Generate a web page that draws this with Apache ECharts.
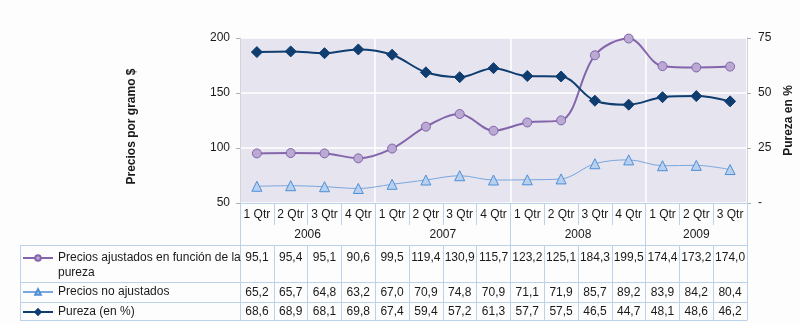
<!DOCTYPE html>
<html>
<head>
<meta charset="utf-8">
<script src="https://cdn.jsdelivr.net/npm/echarts@6/dist/echarts.min.js"></script>
<style>
  html, body { margin: 0; padding: 0; background: #fdfdfd; }
  #chart { width: 800px; height: 323px; }
</style>
</head>
<body>
<div id="chart"></div>
<script>
// Quarterly categories and the year each quarter belongs to
const quarters = ['1 Qtr', '2 Qtr', '3 Qtr', '4 Qtr', '1 Qtr', '2 Qtr', '3 Qtr', '4 Qtr',
                  '1 Qtr', '2 Qtr', '3 Qtr', '4 Qtr', '1 Qtr', '2 Qtr', '3 Qtr'];
const quarterYears = ['2006', '2006', '2006', '2006', '2007', '2007', '2007', '2007',
                      '2008', '2008', '2008', '2008', '2009', '2009', '2009'];

// Series values
const adjustedPrices = [95.1, 95.4, 95.1, 90.6, 99.5, 119.4, 130.9, 115.7, 123.2, 125.1, 184.3, 199.5, 174.4, 173.2, 174.0];
const unadjustedPrices = [65.2, 65.7, 64.8, 63.2, 67.0, 70.9, 74.8, 70.9, 71.1, 71.9, 85.7, 89.2, 83.9, 84.2, 80.4];
const purity = [68.6, 68.9, 68.1, 69.8, 67.4, 59.4, 57.2, 61.3, 57.7, 57.5, 46.5, 44.7, 48.1, 48.6, 46.2];

// Axis scales
const priceTicks = [50, 100, 150, 200];
const purityTicks = [0, 25, 50, 75];

const seriesNames = ['Precios ajustados en función de la pureza', 'Precios no ajustados', 'Pureza (en %)'];
// a leading blank line keeps the key beside the first line of the wrapped label
const legendLabels = [' \nPrecios ajustados en función de la\npureza', 'Precios no ajustados', 'Pureza (en %)'];

// Layout
const FONT = "'Liberation Sans', Arial, sans-serif";
const TEXT = '#1a1a1a';
const BORDER = '#bcd1ea';
const PLOT = { left: 240, top: 38, width: 507, height: 165 };
const plotBottom = PLOT.top + PLOT.height;
const tableLeft = 20;
const rowTops = [245, 282, 302];   // value rows
const tableBottom = 320;
const yearRowTop = 225;
const rowTextCenters = [257, 291, 311];

// Year groups: start index and length of each year in the quarter list
const yearGroups = [];
quarterYears.forEach((y, i) => {
  const last = yearGroups[yearGroups.length - 1];
  if (last && last.year === y) last.count++;
  else yearGroups.push({ year: y, start: i, count: 1 });
});
const yearBounds = yearGroups.map(g => g.start).concat([quarters.length]);
const yearCenters = yearGroups.map(g => g.start + g.count / 2);

const fmt = v => v.toFixed(1).replace('.', ',');

function valueRowAxis(values, top, height, margin) {
  return {
    type: 'category', data: quarters, position: 'bottom',
    offset: top - plotBottom,
    axisLine: { show: true, lineStyle: { color: BORDER, width: 1 } },
    axisTick: { show: true, interval: 0, length: height, lineStyle: { color: BORDER } },
    axisLabel: {
      show: true, interval: 0, margin: margin, fontSize: 12, color: TEXT, fontFamily: FONT,
      formatter: (v, i) => fmt(values[i])
    },
    splitLine: { show: false }
  };
}

const chart = echarts.init(document.getElementById('chart'), null, { renderer: 'canvas' });

const borderLines = [];
rowTops.concat([tableBottom]).forEach(y => {
  borderLines.push({ type: 'line', shape: { x1: tableLeft, y1: y + 0.5, x2: PLOT.left, y2: y + 0.5 },
    style: { stroke: BORDER, lineWidth: 1 }, silent: true });
});
borderLines.push({ type: 'line', shape: { x1: tableLeft + 0.5, y1: rowTops[0], x2: tableLeft + 0.5, y2: tableBottom },
  style: { stroke: BORDER, lineWidth: 1 }, silent: true });

const LEGEND_LINE = 15;
const legendTops = rowTextCenters.map((c, i) =>
  c - 6.5 - (i === 0 ? LEGEND_LINE : 0));

chart.setOption({
  animation: false,
  backgroundColor: '#fdfdfd',
  textStyle: { fontFamily: FONT },
  grid: {
    left: PLOT.left, top: PLOT.top, width: PLOT.width, height: PLOT.height,
    show: true, backgroundColor: '#e6e4ef', borderWidth: 0,
    containLabel: false, outerBoundsMode: 'none'
  },
  legend: seriesNames.map((name, i) => ({
    data: [name],
    left: tableLeft + 2,
    top: legendTops[i],
    padding: 0,
    itemWidth: 30,
    itemHeight: 7,
    selectedMode: false,
    formatter: () => legendLabels[i],
    textStyle: { fontSize: 12, color: TEXT, fontFamily: FONT, lineHeight: LEGEND_LINE }
  })),
  xAxis: [
    {
      type: 'category', data: quarters, position: 'bottom', boundaryGap: true,
      axisLine: { show: true, lineStyle: { color: BORDER } },
      axisTick: { show: true, interval: 0, length: yearRowTop - plotBottom, lineStyle: { color: BORDER } },
      axisLabel: { interval: 0, margin: 6, fontSize: 12, color: TEXT, fontFamily: FONT },
      splitLine: {
        show: true,
        interval: (i) => i > 0 && yearBounds.indexOf(i) >= 0,
        lineStyle: { color: '#ffffff', width: 1.5 }
      }
    },
    {
      type: 'value', min: 0, max: quarters.length, position: 'bottom',
      offset: yearRowTop - plotBottom,
      axisLine: { show: false },
      axisTick: { show: true, customValues: yearBounds, length: rowTops[0] - yearRowTop, lineStyle: { color: BORDER } },
      axisLabel: {
        show: true, customValues: yearCenters, margin: 4, fontSize: 12, color: TEXT, fontFamily: FONT,
        formatter: (v) => {
          const k = yearCenters.indexOf(v);
          return k >= 0 ? yearGroups[k].year : '';
        }
      },
      splitLine: { show: false }
    },
    valueRowAxis(adjustedPrices, rowTops[0], rowTops[1] - rowTops[0], 7),
    valueRowAxis(unadjustedPrices, rowTops[1], rowTops[2] - rowTops[1], 4.5),
    valueRowAxis(purity, rowTops[2], tableBottom - rowTops[2], 4),
    {
      type: 'category', data: quarters, position: 'bottom',
      offset: tableBottom - plotBottom,
      axisLine: { show: true, lineStyle: { color: BORDER } },
      axisTick: { show: false }, axisLabel: { show: false }, splitLine: { show: false }
    }
  ],
  yAxis: [
    {
      type: 'value', position: 'left',
      min: priceTicks[0], max: priceTicks[priceTicks.length - 1], interval: priceTicks[1] - priceTicks[0],
      name: 'Precios por gramo $', nameLocation: 'middle', nameRotate: 90, nameGap: 102,
      nameTextStyle: { fontSize: 12, fontWeight: 'bold', color: TEXT, fontFamily: FONT, padding: [0, 12, 0, 0] },
      axisLine: { show: true, lineStyle: { color: '#d4d4d8' } },
      axisTick: { show: true, length: 4, lineStyle: { color: '#b0b0b0' } },
      axisLabel: { fontSize: 12, color: TEXT, margin: 10, fontFamily: FONT },
      splitLine: { show: true, lineStyle: { color: '#ffffff', width: 1.5 } }
    },
    {
      type: 'value', position: 'right',
      min: purityTicks[0], max: purityTicks[purityTicks.length - 1], interval: purityTicks[1] - purityTicks[0],
      name: 'Pureza en %', nameLocation: 'middle', nameRotate: 90, nameGap: 36,
      nameTextStyle: { fontSize: 12, fontWeight: 'bold', color: TEXT, fontFamily: FONT },
      axisLine: { show: true, lineStyle: { color: '#d4d4d8' } },
      axisTick: { show: true, length: 4, lineStyle: { color: '#b0b0b0' } },
      axisLabel: { fontSize: 12, color: TEXT, margin: 11, fontFamily: FONT,
        formatter: v => v === 0 ? '-' : String(v) },
      splitLine: { show: false }
    }
  ],
  series: [
    {
      name: seriesNames[0], type: 'line', xAxisIndex: 0, yAxisIndex: 0,
      data: adjustedPrices, smooth: 0.35,
      symbol: 'circle', symbolSize: 9,
      lineStyle: { color: '#8465ab', width: 2 },
      itemStyle: { color: '#b9a9d3', borderColor: '#8465ab', borderWidth: 1 }
    },
    {
      name: seriesNames[1], type: 'line', xAxisIndex: 0, yAxisIndex: 0,
      data: unadjustedPrices, smooth: 0.35,
      symbol: 'triangle', symbolSize: 10,
      lineStyle: { color: '#79a7de', width: 1 },
      itemStyle: { color: '#b7d0ef', borderColor: '#4f8fd6', borderWidth: 1 }
    },
    {
      name: seriesNames[2], type: 'line', xAxisIndex: 0, yAxisIndex: 1,
      data: purity, smooth: 0.35,
      symbol: 'diamond', symbolSize: 11,
      lineStyle: { color: '#0f3d70', width: 2 },
      itemStyle: { color: '#0f3d70', borderColor: '#0f3d70', borderWidth: 1 }
    }
  ],
  graphic: borderLines
});
</script>
</body>
</html>
